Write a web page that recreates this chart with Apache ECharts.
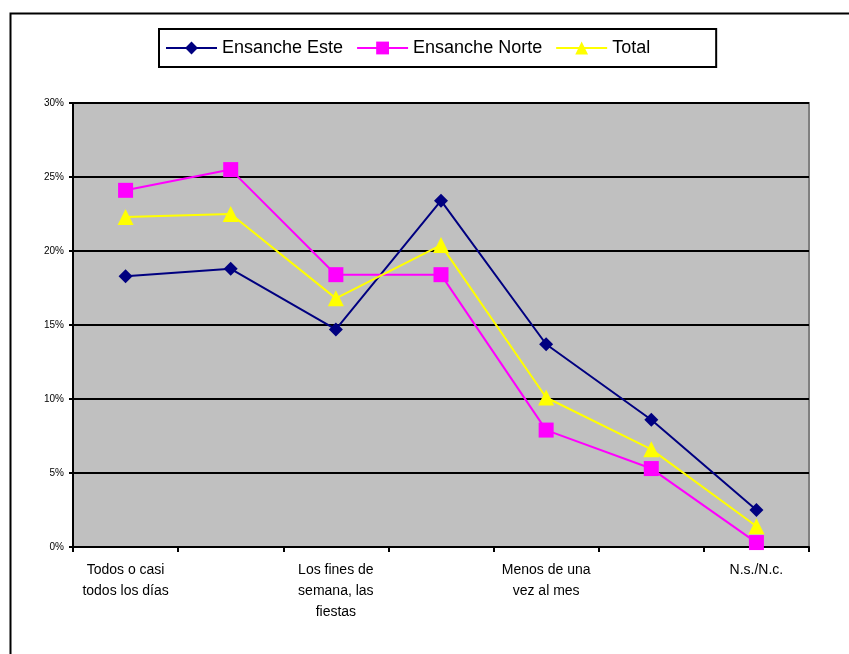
<!DOCTYPE html>
<html>
<head>
<meta charset="utf-8">
<script src="https://cdn.jsdelivr.net/npm/echarts@6/dist/echarts.min.js"></script>
<style>
  html, body { margin: 0; padding: 0; background: #fff; }
  #chart { width: 849px; height: 654px; }
</style>
</head>
<body>
<div id="chart"></div>
<script>
// categories (only every other one gets a label in the original)
var categories = [
    'Todos o casi\ntodos los días',
    'Varias veces a la semana',
    'Los fines de\nsemana, las\nfiestas',
    'Alguna vez al mes',
    'Menos de una\nvez al mes',
    'Nunca',
    'N.s./N.c.'
];

var ensancheEste  = [0.183, 0.188, 0.147, 0.234, 0.137, 0.086, 0.025];
var ensancheNorte = [0.241, 0.255, 0.184, 0.184, 0.079, 0.053, 0.003];
var total         = [0.223, 0.225, 0.168, 0.204, 0.101, 0.066, 0.014];

var yTicks = [0, 0.05, 0.10, 0.15, 0.20, 0.25, 0.30];

var myChart = echarts.init(document.getElementById('chart'));

var font = 'Arial, "Liberation Sans", sans-serif';

var option = {
    animation: false,
    textStyle: { fontFamily: font },
    graphic: [{
        type: 'rect',
        left: 8, top: 11,
        shape: { width: 900, height: 700 },
        style: { fill: 'none', stroke: '#000', lineWidth: 2 },
        silent: true
    }],
    legend: {
        left: 159,
        top: 29,
        padding: [10, 66, 10, 6],
        itemGap: 13,
        itemWidth: 51,
        itemHeight: 16,
        borderColor: '#000',
        borderWidth: 2,
        backgroundColor: '#fff',
        textStyle: { fontSize: 18, color: '#000', fontFamily: font },
        data: ['Ensanche Este', 'Ensanche Norte', 'Total']
    },
    grid: {
        left: 73,
        right: 40,
        top: 103,
        bottom: 107,
        show: true,
        backgroundColor: '#C0C0C0',
        borderColor: '#808080',
        borderWidth: 2
    },
    xAxis: {
        type: 'category',
        data: categories,
        boundaryGap: true,
        axisLine: { lineStyle: { color: '#000', width: 2 } },
        axisTick: { show: true, interval: 0, length: 5, lineStyle: { color: '#000', width: 2 } },
        axisLabel: {
            interval: 1,
            fontSize: 14,
            lineHeight: 21,
            color: '#000',
            margin: 13,
            fontFamily: font
        }
    },
    yAxis: {
        type: 'value',
        min: yTicks[0],
        max: yTicks[yTicks.length - 1],
        interval: 0.05,
        axisLine: { show: true, lineStyle: { color: '#000', width: 2 } },
        axisTick: { show: true, length: 4, lineStyle: { color: '#000', width: 2 } },
        splitLine: { show: true, lineStyle: { color: '#000', width: 2 } },
        axisLabel: {
            fontSize: 10,
            color: '#000',
            margin: 9,
            fontFamily: font,
            formatter: function(v) { return Math.round(v * 100) + '%'; }
        }
    },
    series: [
        {
            name: 'Ensanche Este',
            type: 'line',
            data: ensancheEste,
            symbol: 'diamond',
            symbolSize: 14,
            lineStyle: { color: '#000080', width: 2 },
            itemStyle: { color: '#000080' }
        },
        {
            name: 'Ensanche Norte',
            type: 'line',
            data: ensancheNorte,
            symbol: 'rect',
            symbolSize: 15,
            lineStyle: { color: '#FF00FF', width: 2 },
            itemStyle: { color: '#FF00FF' }
        },
        {
            name: 'Total',
            type: 'line',
            data: total,
            symbol: 'triangle',
            symbolSize: 16,
            lineStyle: { color: '#FFFF00', width: 2 },
            itemStyle: { color: '#FFFF00' }
        }
    ]
};

myChart.setOption(option);
</script>
</body>
</html>
